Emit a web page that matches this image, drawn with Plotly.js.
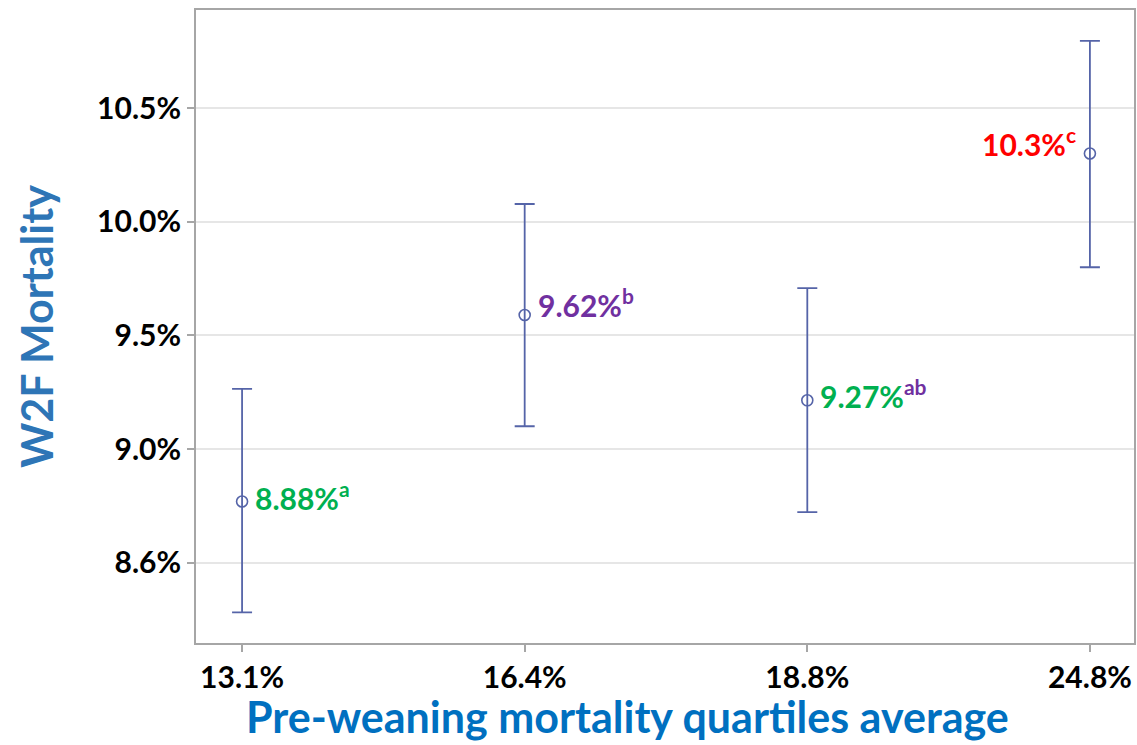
<!DOCTYPE html>
<html><head><meta charset="utf-8">
<script src="https://cdn.plot.ly/plotly-3.0.1.min.js"></script>
<style>html,body{margin:0;padding:0;background:#fff}</style>
</head><body><div id="chart" style="width:1137px;height:745px"></div>
<script>
const categories = ["13.1%", "16.4%", "18.8%", "24.8%"];
const means = [8.77, 9.59, 9.215, 10.30];
const upper = [9.265, 10.078, 9.708, 10.795];
const lower = [8.283, 9.101, 8.723, 9.80];
const labelValues = ["8.88%", "9.62%", "9.27%", "10.3%"];
const labelLetters = ["a", "b", "ab", "c"];
const labelColors = ["#00B050", "#7030A0", "#00B050", "#FF0000"];
const letterColors = ["#00B050", "#7030A0", "#7030A0", "#FF0000"];
const yTickVals = [8.5, 9.0, 9.5, 10.0, 10.5];
const yTickText = ["8.6%", "9.0%", "9.5%", "10.0%", "10.5%"];
const xTitle = "Pre-weaning mortality quartiles average";
const yTitle = "W2F Mortality";

const xs = categories.map((c, i) => i);
const markColor = "#5564A8";
const FONT = "Lato, 'Open Sans', sans-serif";

const trace = {
  type: "scatter", mode: "markers",
  x: xs, y: means,
  marker: {symbol: "circle-open", size: 11, color: markColor, line: {width: 1.6, color: markColor}},
  error_y: {type: "data", symmetric: false,
    array: upper.map((u, i) => u - means[i]),
    arrayminus: means.map((m, i) => m - lower[i]),
    color: markColor, thickness: 1.8, width: 10},
  hoverinfo: "skip", showlegend: false
};

const annotations = categories.map((c, i) => {
  const right = i === 3;
  return {
    x: xs[i], y: means[i], xref: "x", yref: "y",
    text: `<span style="color:${labelColors[i]}">${labelValues[i]}</span><sup style="color:${letterColors[i]}">${labelLetters[i]}</sup>`,
    showarrow: false,
    xanchor: right ? "right" : "left",
    xshift: right ? -12 : 11,
    yshift: [6, 12, 6, 12][i],
    font: {family: FONT, size: 30, color: labelColors[i], weight: "bold"}
  };
});
annotations.push({
  text: xTitle, xref: "paper", yref: "paper", x: 0.4595, y: -0.116,
  xanchor: "center", yanchor: "middle", showarrow: false,
  font: {family: FONT, size: 43, color: "#0070C0", weight: "bold"}
});

const layout = {
  width: 1137, height: 745,
  margin: {l: 196, r: 3, t: 10, b: 102},
  paper_bgcolor: "#fff", plot_bgcolor: "#fff",
  font: {family: FONT},
  xaxis: {
    range: [-0.163, 3.156], tickvals: xs, ticktext: categories,
    showgrid: false, zeroline: false,
    showline: true, linecolor: "#A6A6A6", linewidth: 2, mirror: true,
    ticks: "outside", ticklen: 7, tickwidth: 2, tickcolor: "#A6A6A6",
    tickfont: {family: FONT, size: 30, color: "#000", weight: "bold"},
    automargin: false
  },
  yaxis: {
    range: [8.148, 10.931], tickvals: yTickVals, ticktext: yTickText,
    showgrid: true, gridcolor: "#E6E6E6", gridwidth: 2, zeroline: false,
    showline: true, linecolor: "#A6A6A6", linewidth: 2, mirror: true,
    ticks: "outside", ticklen: 7, tickwidth: 2, tickcolor: "#A6A6A6",
    tickfont: {family: FONT, size: 30, color: "#000", weight: "bold"},
    title: {text: yTitle, standoff: 30,
      font: {family: FONT, size: 43, color: "#2E75B6", weight: "bold"}},
    automargin: false
  },
  annotations: annotations
};

Plotly.newPlot("chart", [trace], layout, {displayModeBar: false, staticPlot: true});
</script></body></html>
